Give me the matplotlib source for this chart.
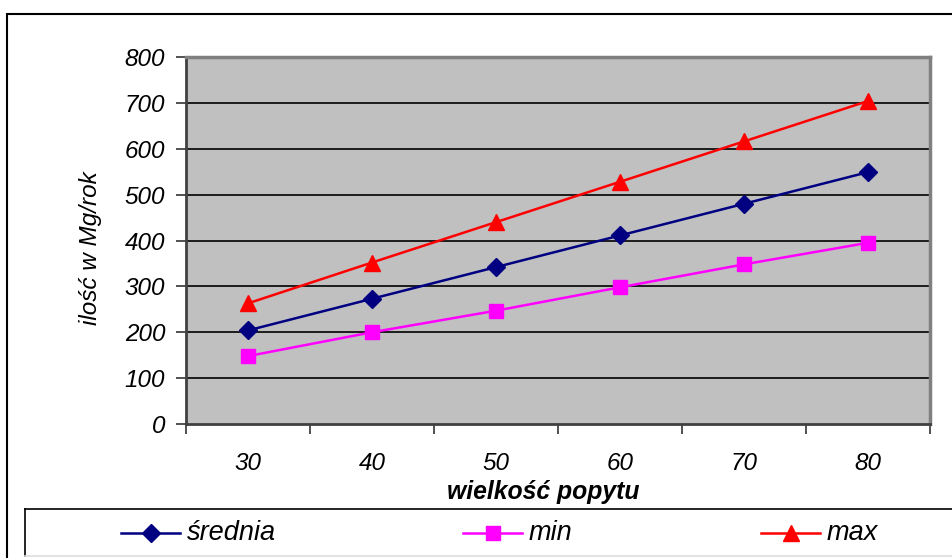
import matplotlib
matplotlib.use("Agg")
import matplotlib.pyplot as plt
from matplotlib.patches import Rectangle
from matplotlib.lines import Line2D

plt.rcParams['font.family'] = ['Liberation Sans', 'DejaVu Sans']

categories = ['30', '40', '50', '60', '70', '80']
srednia = [204, 273, 342, 411, 480, 549]
minimum = [148, 200, 247, 298, 348, 395]
maximum = [263, 352, 440, 528, 616, 704]
y_ticks = [0, 100, 200, 300, 400, 500, 600, 700, 800]

W, H = 952, 558
fig = plt.figure(figsize=(W / 100, H / 100), dpi=100)

# outer chart border
fig.patches.append(Rectangle((7 / W, -0.1), 1.2, (H - 14) / H + 0.1,
                             transform=fig.transFigure, fill=False,
                             edgecolor='black', linewidth=1.5))
# legend box: black top and left edges, faint bottom edge
lb, lt, ll = 1 - 556 / H, 1 - 509 / H, 25 / W
fig.add_artist(Line2D([ll, 1.0], [lt, lt], transform=fig.transFigure,
                      color='black', linewidth=1.2))
fig.add_artist(Line2D([ll, ll], [lb, lt], transform=fig.transFigure,
                      color='black', linewidth=1.2))
fig.add_artist(Line2D([ll, 1.0], [lb, lb], transform=fig.transFigure,
                      color='#dddddd', linewidth=1.2))

left, right, top, bottom = 186, 930, 57, 424
ax = fig.add_axes([left / W, 1 - bottom / H, (right - left) / W, (bottom - top) / H])
ax.set_facecolor('#c0c0c0')

x = list(range(len(categories)))
ax.plot(x, srednia, color='#000080', marker='D', markersize=9, linewidth=1.8,
        label='średnia', zorder=3)
ax.plot(x, minimum, color='#ff00ff', marker='s', markersize=10, linewidth=1.8,
        label='min', zorder=3)
ax.plot(x, maximum, color='#ff0000', marker='^', markersize=12, linewidth=1.8,
        label='max', zorder=3)

fs = 17.5
ax.set_xlim(-0.5, len(categories) - 0.5)
ax.set_ylim(0, 800)
ax.set_yticks(y_ticks)
ax.set_yticklabels([str(v) for v in y_ticks], fontsize=fs, style='italic')
ax.set_xticks([i - 0.5 for i in range(len(categories) + 1)])
ax.set_xticklabels([])
ax.set_xticks(x, minor=True)
ax.set_xticklabels(categories, minor=True, fontsize=fs, style='italic')
ax.tick_params(axis='x', which='minor', length=0, pad=20)
ax.tick_params(axis='x', which='major', length=7, width=1.2, color='#333333', direction='out')
ax.tick_params(axis='y', length=7, width=1.2, color='#333333', direction='out', pad=8)

for v in y_ticks[1:-1]:
    ax.axhline(v, color='black', linewidth=1.2, zorder=1)

for side in ['top', 'right']:
    ax.spines[side].set_color('#808080')
    ax.spines[side].set_linewidth(2.5)
ax.spines['left'].set_color('#404040')
ax.spines['left'].set_linewidth(2)
ax.spines['bottom'].set_color('#404040')
ax.spines['bottom'].set_linewidth(2)

fig.text(90 / W, 1 - 248 / H, 'ilość w Mg/rok', rotation=90, ha='center',
         va='center', fontsize=fs, style='italic')
fig.text(543 / W, 1 - 492 / H, 'wielkość popytu', ha='center', va='center',
         fontsize=17.8, style='italic', fontweight='bold')

# legend entries
handles, labels = ax.get_legend_handles_labels()
entry_x = [(121, 187), (463, 529), (761, 827)]
ly = 1 - 533 / H
for h, lab, (lx, tx) in zip(handles, labels, entry_x):
    fig.add_artist(Line2D([lx / W, (lx + 59) / W], [ly, ly], transform=fig.transFigure,
                          color=h.get_color(), linewidth=1.8))
    fig.add_artist(Line2D([(lx + 29.5) / W], [ly], transform=fig.transFigure,
                          color=h.get_color(), marker=h.get_marker(),
                          markersize=h.get_markersize(), linestyle='none'))
    fig.text(tx / W, ly, lab, ha='left', va='center', fontsize=19.5, style='italic')

fig.savefig('out.png', dpi=100)
